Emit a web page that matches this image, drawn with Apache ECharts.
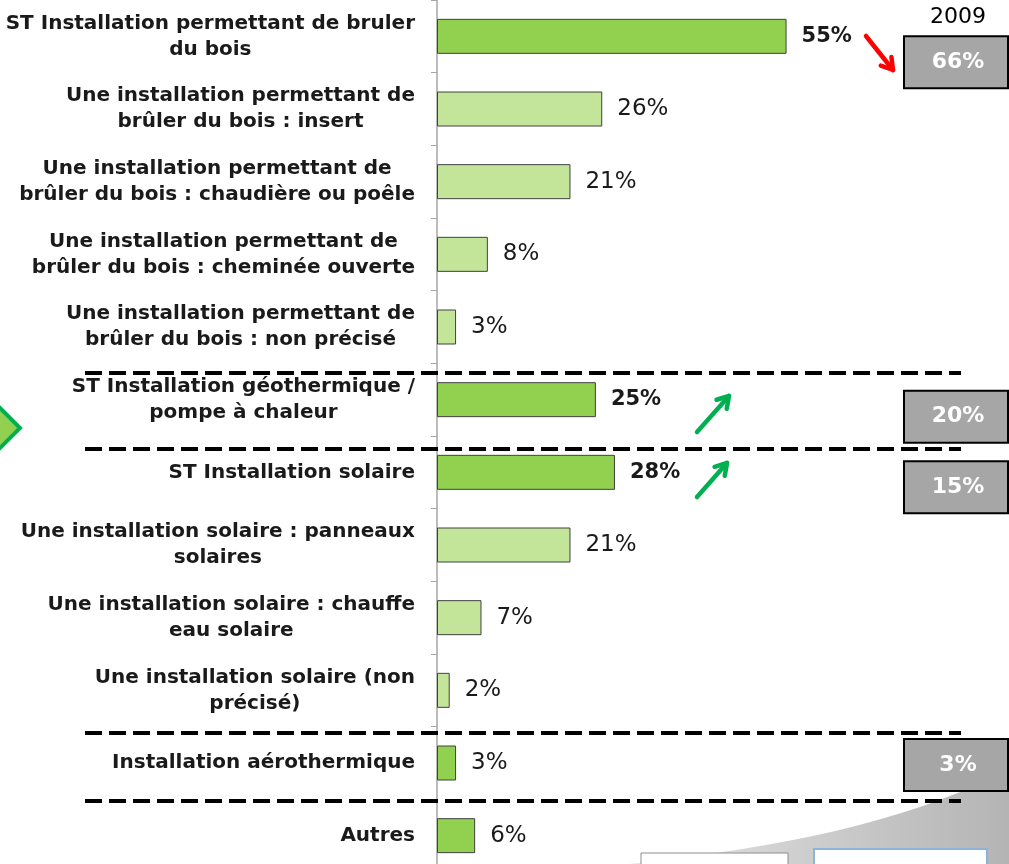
<!DOCTYPE html>
<html>
<head>
<meta charset="utf-8">
<title>Installations</title>
<style>
  html, body { margin: 0; padding: 0; background: #fff; overflow: hidden; }
  #main { width: 1009px; height: 872px; }
</style>
</head>
<body>
<div id="main"></div>
<script src="https://cdn.jsdelivr.net/npm/echarts@6/dist/echarts.min.js"></script>
<script>
// data
var categories = [
  'ST Installation permettant de bruler\ndu bois',
  'Une installation permettant de\nbrûler du bois : insert',
  'Une installation permettant de\nbrûler du bois : chaudière ou poêle',
  'Une installation permettant de\nbrûler du bois : cheminée ouverte',
  'Une installation permettant de\nbrûler du bois : non précisé',
  'ST Installation géothermique /\npompe à chaleur',
  'ST Installation solaire',
  'Une installation solaire : panneaux\nsolaires',
  'Une installation solaire : chauffe\neau solaire',
  'Une installation solaire (non\nprécisé)',
  'Installation aérothermique',
  'Autres'
];
var values = [55, 26, 21, 8, 3, 25, 28, 21, 7, 2, 3, 6];
var isTotal = [true, false, false, false, false, true, true, false, false, false, true, true];
var boldLabel = [true, false, false, false, false, true, true, false, false, false, false, false];

// 2009 comparison
var prevRows = [0, 5, 6, 10];
var prevValues = [66, 20, 15, 3];
var prevYear = '2009';

var DARK = '#92D050', LIGHT = '#C3E59A';
var FONT = '"DejaVu Sans", Verdana, sans-serif';

var chart = echarts.init(document.getElementById('main'));

var option = {
  animation: false,
  grid: { left: 437, top: 0, right: 0, height: 872, containLabel: false },
  xAxis: { type: 'value', min: 0, max: 90, show: false },
  yAxis: {
    type: 'category',
    inverse: true,
    data: categories,
    axisLine: { lineStyle: { color: '#a6a6a6', width: 1.5 } },
    axisTick: { show: true, length: 6, lineStyle: { color: '#a6a6a6' } },
    axisLabel: {
      margin: 22,
      align: 'right',
      fontFamily: FONT,
      fontWeight: 'bold',
      fontSize: 20,
      color: '#1a1a1a',
      lineHeight: 26,
      formatter: function (v) {
        return v.split('\n').map(function (l) { return '{c|' + l + '}'; }).join('\n');
      },
      rich: { c: { align: 'center', fontFamily: FONT, fontWeight: 'bold', fontSize: 20, lineHeight: 26, color: '#1a1a1a' } }
    }
  },
  series: [{
    type: 'bar',
    barWidth: 35,
    data: values.map(function (v, i) {
      return {
        value: v,
        itemStyle: { color: isTotal[i] ? DARK : LIGHT },
        label: { fontWeight: boldLabel[i] ? 'bold' : 'normal', fontSize: boldLabel[i] ? 21 : 23 }
      };
    }),
    itemStyle: { borderColor: '#404040', borderWidth: 1 },
    label: {
      show: true,
      position: 'right',
      distance: 15,
      fontFamily: FONT,
      fontSize: 23,
      color: '#1a1a1a',
      formatter: '{c}%'
    }
  }]
};
chart.setOption(option);

// decorations
var yc = function (i) { return chart.convertToPixel({ yAxisIndex: 0 }, i); };
var boxOffsets = [26, 17, 15, 2];
var g = [];

// grey swoosh bottom right (sampled cubic curve)
var swoosh = [];
var P = [[540, 872], [760, 855], [900, 825], [1009, 770]];
for (var t = 0; t <= 1.0001; t += 0.05) {
  var u = 1 - t;
  swoosh.push([
    u * u * u * P[0][0] + 3 * u * u * t * P[1][0] + 3 * u * t * t * P[2][0] + t * t * t * P[3][0],
    u * u * u * P[0][1] + 3 * u * u * t * P[1][1] + 3 * u * t * t * P[2][1] + t * t * t * P[3][1]
  ]);
}
swoosh.push([1009, 872]);
g.push({
  type: 'polygon', silent: true, z: 0,
  shape: { points: swoosh },
  style: { fill: { type: 'linear', x: 0, y: 0, x2: 1, y2: 0, colorStops: [
    { offset: 0, color: '#f4f4f4' }, { offset: 0.5, color: '#d2d2d2' }, { offset: 1, color: '#b4b4b4' }
  ] } }
});
g.push({ type: 'rect', silent: true, z: 1, shape: { x: 641, y: 853, width: 147, height: 24 },
  style: { fill: '#fff', stroke: '#8c8c8c', lineWidth: 1 } });
g.push({ type: 'rect', silent: true, z: 1, shape: { x: 814, y: 849, width: 173, height: 28 },
  style: { fill: '#fff', stroke: '#8fb2d9', lineWidth: 2 } });

// dashed separators
[373, 449, 733, 801].forEach(function (y) {
  g.push({ type: 'line', silent: true, z: 5,
    shape: { x1: 85, y1: y, x2: 961, y2: y },
    style: { stroke: '#000', lineWidth: 4, lineDash: [17, 7] } });
});

// 2009 boxes
g.push({ type: 'text', silent: true, z: 6, x: 958, y: 17,
  style: { text: prevYear, fontFamily: FONT, fontSize: 22, fill: '#000', align: 'center', verticalAlign: 'middle' } });
prevRows.forEach(function (r, k) {
  var cy = yc(r) + boxOffsets[k];
  g.push({ type: 'rect', silent: true, z: 6,
    shape: { x: 904, y: cy - 26, width: 104, height: 52 },
    style: { fill: '#a6a6a6', stroke: '#000', lineWidth: 2 } });
  g.push({ type: 'text', silent: true, z: 7, x: 958, y: cy,
    style: { text: prevValues[k] + '%', fontFamily: FONT, fontWeight: 'bold', fontSize: 22, fill: '#fff', align: 'center', verticalAlign: 'middle' } });
});

// arrows
function arrow(x1, y1, x2, y2, color) {
  var a = Math.atan2(y2 - y1, x2 - x1), h = 13;
  g.push({ type: 'line', silent: true, z: 8, shape: { x1: x1, y1: y1, x2: x2, y2: y2 },
    style: { stroke: color, lineWidth: 4.5, lineCap: 'round' } });
  g.push({ type: 'polyline', silent: true, z: 8, shape: { points: [
    [x2 - h * Math.cos(a - 0.55), y2 - h * Math.sin(a - 0.55)], [x2, y2],
    [x2 - h * Math.cos(a + 0.55), y2 - h * Math.sin(a + 0.55)]] },
    style: { stroke: color, lineWidth: 4.5, lineCap: 'round', lineJoin: 'round', fill: null } });
}
arrow(866, 36, 893, 70, '#ff0000');
arrow(697, 432, 729, 396, '#00b050');
arrow(697, 497, 727, 463, '#00b050');

// green diamond at left edge
g.push({ type: 'polygon', silent: true, z: 8,
  shape: { points: [[0, 408], [20, 428], [0, 448], [-20, 428]] },
  style: { fill: DARK, stroke: '#00b050', lineWidth: 4 } });

chart.setOption({ graphic: g });
</script>
</body>
</html>
